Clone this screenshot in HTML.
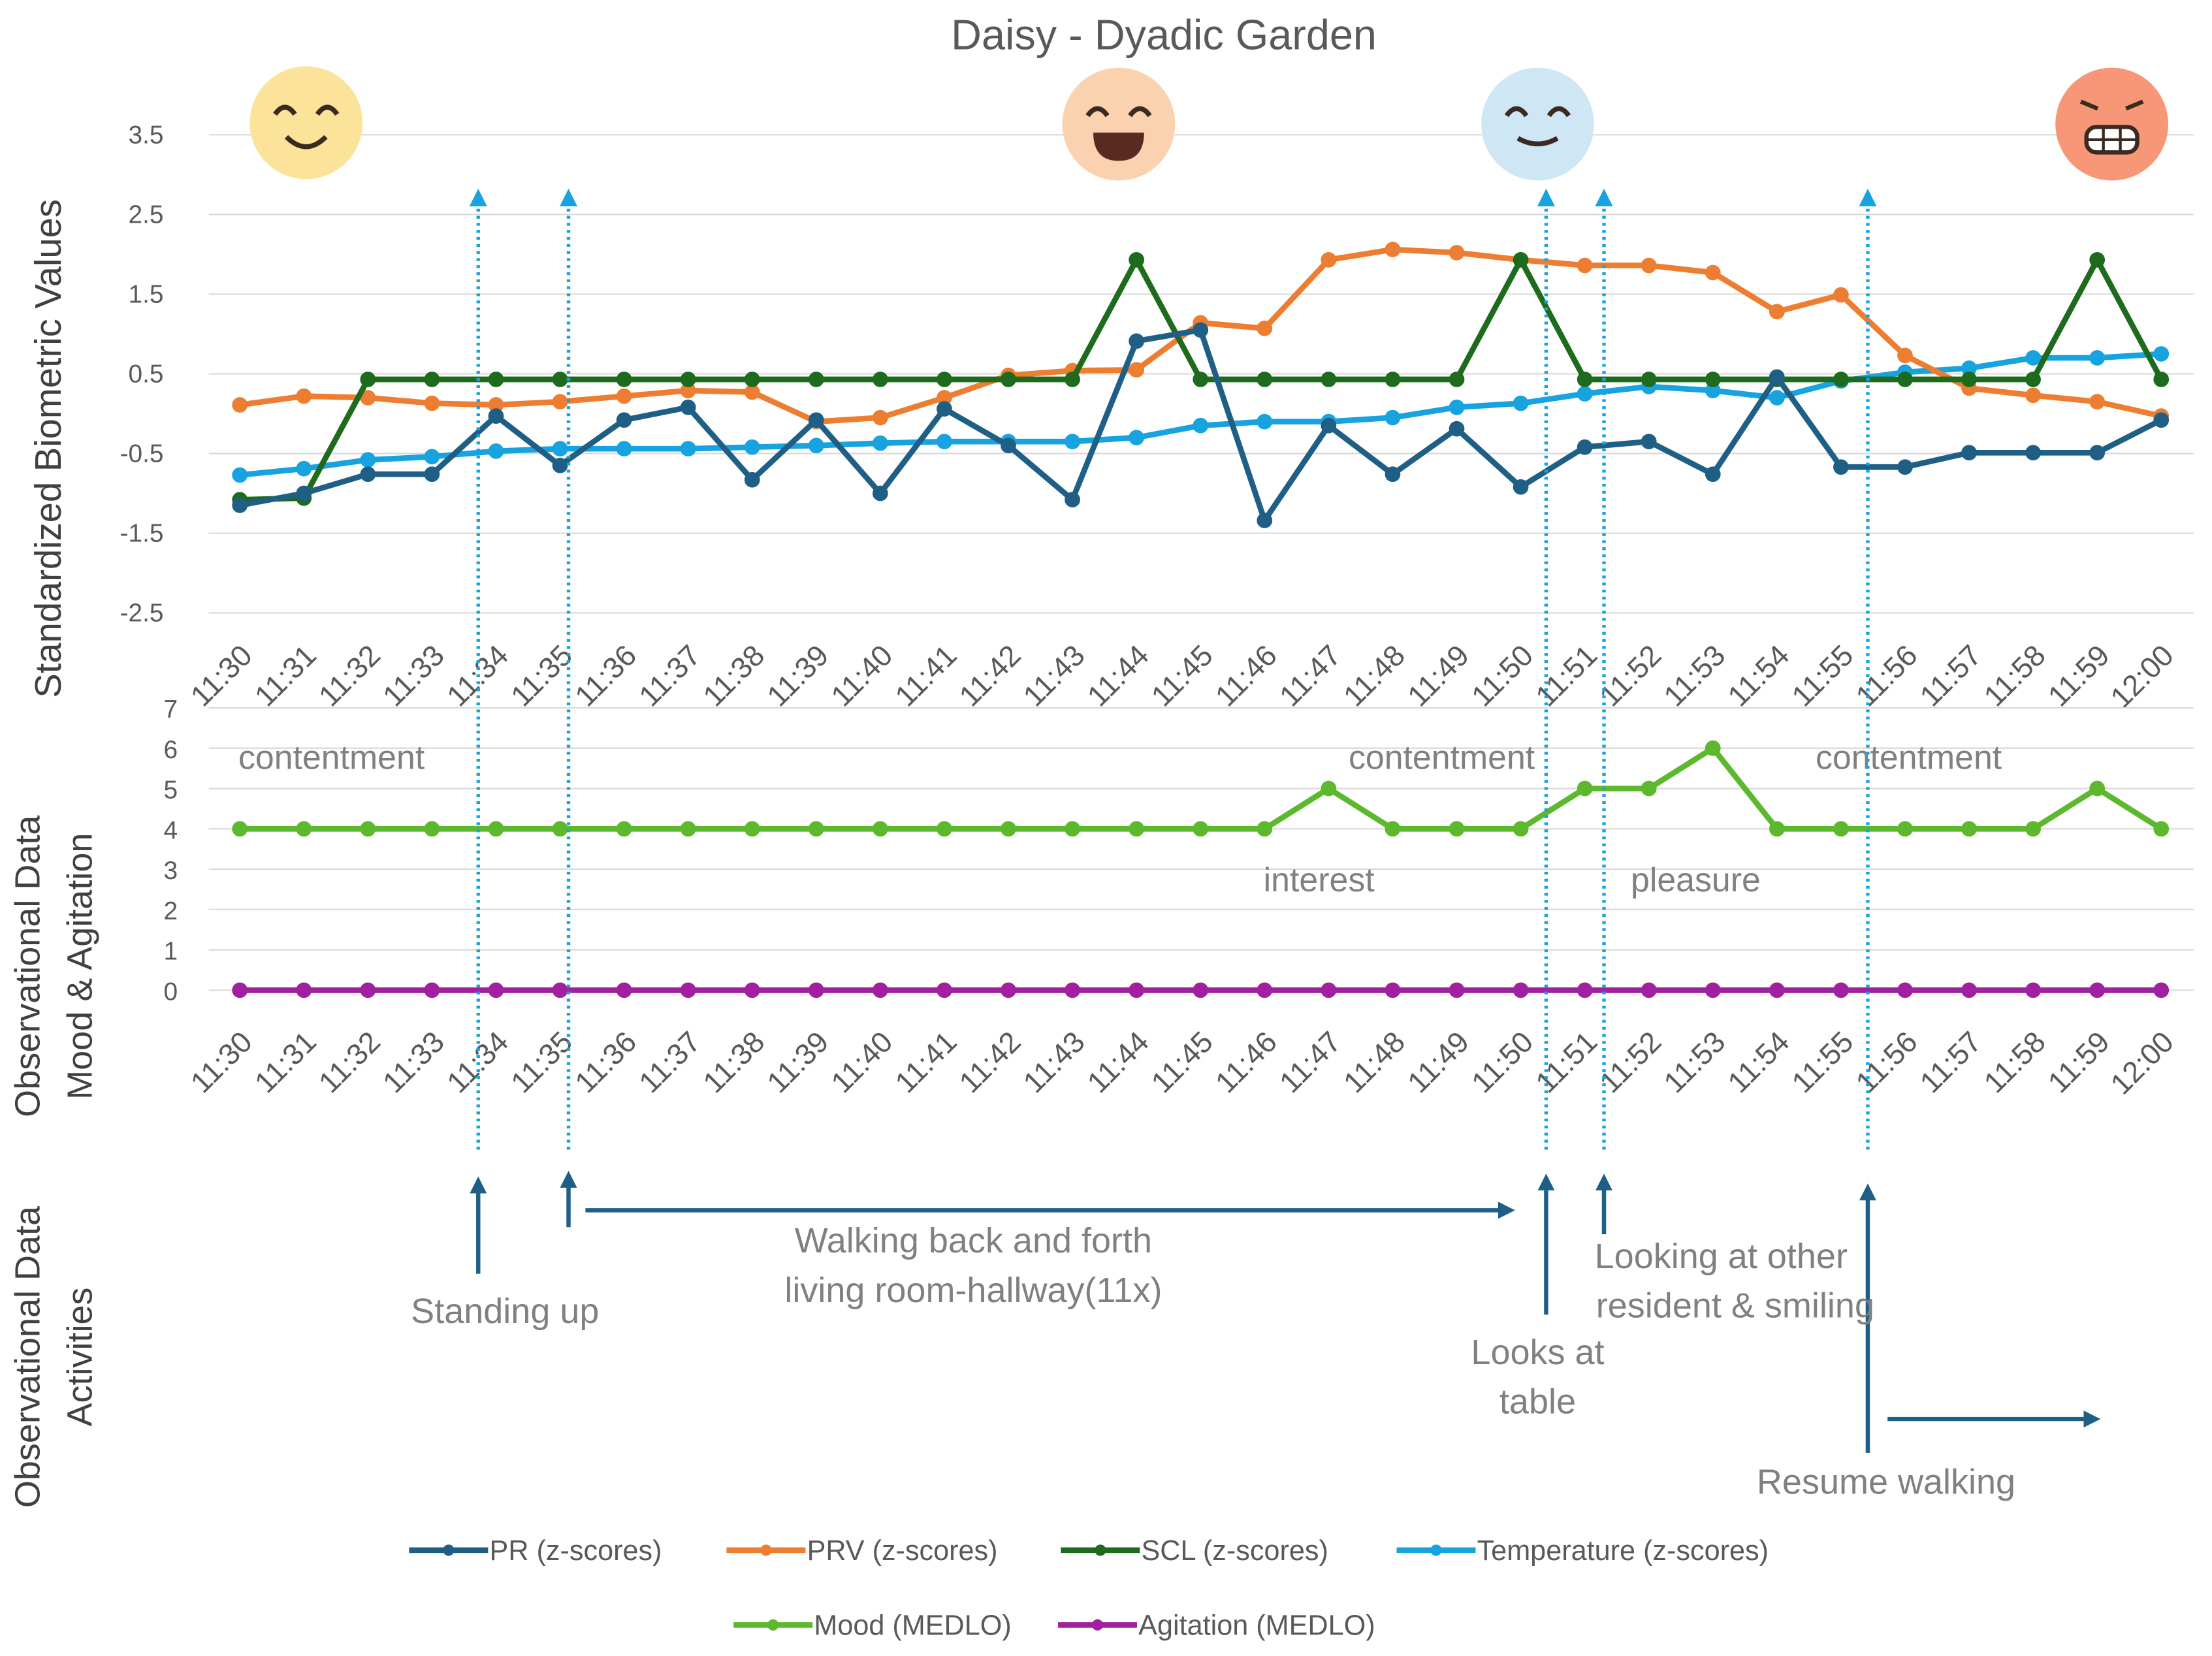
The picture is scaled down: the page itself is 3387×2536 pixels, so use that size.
<!DOCTYPE html>
<html><head><meta charset="utf-8"><style>
html,body{margin:0;padding:0;background:#fff;}
svg{display:block;}
text{font-family:"Liberation Sans",sans-serif;}
</style></head><body>
<svg id="chart" width="3387" height="2536" viewBox="0 0 1568 1174" xmlns="http://www.w3.org/2000/svg">
<rect x="0" y="0" width="1568" height="1174" fill="#fff"/>
<text x="825" y="35" text-anchor="middle" font-size="30" fill="#595959">Daisy - Dyadic Garden</text>
<g id="topPanel"></g>
<g id="midPanel"></g>
<g id="ann"></g>
<text transform="translate(43,318) rotate(-90)" text-anchor="middle" font-size="26" fill="#404040">Standardized Biometric Values</text>
<text transform="translate(28,685) rotate(-90)" text-anchor="middle" font-size="25" fill="#404040">Observational Data</text>
<text transform="translate(65,685) rotate(-90)" text-anchor="middle" font-size="25" fill="#404040">Mood &amp; Agitation</text>
<text transform="translate(28,962) rotate(-90)" text-anchor="middle" font-size="25" fill="#404040">Observational Data</text>
<text transform="translate(65,962) rotate(-90)" text-anchor="middle" font-size="25" fill="#404040">Activities</text>
<g id="legend"></g>
</svg>
<script>
const times = [];
for (let i = 0; i <= 30; i++) { const m = 30 + i; times.push(m < 60 ? "11:" + m : "12:00"); }
const prValues = [-1.15,-1.0,-0.76,-0.76,-0.03,-0.65,-0.08,0.08,-0.83,-0.08,-1.0,0.06,-0.4,-1.08,0.91,1.05,-1.34,-0.15,-0.76,-0.19,-0.92,-0.42,-0.35,-0.76,0.46,-0.67,-0.67,-0.49,-0.49,-0.49,-0.08];
const prvValues = [0.11,0.22,0.2,0.13,0.11,0.15,0.22,0.29,0.27,-0.1,-0.05,0.2,0.48,0.54,0.55,1.14,1.07,1.93,2.06,2.02,1.93,1.86,1.86,1.77,1.28,1.49,0.73,0.32,0.23,0.15,-0.03];
const sclValues = [-1.08,-1.06,0.43,0.43,0.43,0.43,0.43,0.43,0.43,0.43,0.43,0.43,0.43,0.43,1.93,0.43,0.43,0.43,0.43,0.43,1.93,0.43,0.43,0.43,0.43,0.43,0.43,0.43,0.43,1.93,0.43];
const tempValues = [-0.77,-0.69,-0.58,-0.54,-0.47,-0.44,-0.44,-0.44,-0.42,-0.4,-0.37,-0.35,-0.35,-0.35,-0.3,-0.15,-0.1,-0.1,-0.05,0.08,0.13,0.25,0.34,0.29,0.2,0.41,0.52,0.57,0.7,0.7,0.75];
const moodValues = [4,4,4,4,4,4,4,4,4,4,4,4,4,4,4,4,4,5,4,4,4,5,5,6,4,4,4,4,4,5,4];
const agitationValues = [0,0,0,0,0,0,0,0,0,0,0,0,0,0,0,0,0,0,0,0,0,0,0,0,0,0,0,0,0,0,0];
const topTicks = [3.5,2.5,1.5,0.5,-0.5,-1.5,-2.5];
const midTicks = [0,1,2,3,4,5,6,7];

const NS = "http://www.w3.org/2000/svg";
function mk(parent, tag, attrs, txt) {
  const e = document.createElementNS(NS, tag);
  for (const k in attrs) e.setAttribute(k, attrs[k]);
  if (txt !== undefined) e.textContent = txt;
  parent.appendChild(e); return e;
}
const xS = i => 170 + i * (1532 - 170) / 30;
const yTop = v => 265 - (v - 0.5) * 56.5;
const yMid = v => 702 - v * 28.6;
const topG = document.getElementById('topPanel'), midG = document.getElementById('midPanel');

topTicks.forEach(t => {
  const g = mk(topG, 'line', {x1:148,x2:1555,y1:yTop(t),y2:yTop(t),stroke:'#d9d9d9','stroke-width':1});
  
  
  const l = mk(topG, 'text', {x:116,y:yTop(t)+6,'text-anchor':'end','font-size':18,fill:'#595959'}, String(t));
  
  
});
midTicks.forEach(t => {
  const g = mk(midG, 'line', {x1:148,x2:1555,y1:yMid(t),y2:yMid(t),stroke:'#d9d9d9','stroke-width':1});
  
  
  const l = mk(midG, 'text', {x:126,y:yMid(t)+7,'text-anchor':'end','font-size':18,fill:'#595959'}, String(t));
  
  
});
times.forEach((t, i) => {
  [[topG, 466], [midG, 740]].forEach(([p, y]) => {
    const l = mk(p, 'text', {transform:`translate(${xS(i)+10},${y}) rotate(-45)`,'text-anchor':'end','font-size':21,fill:'#595959'}, t);
    
    
  });
});
function series(parent, vals, yf, color, name) {
  const pts = vals.map((v, i) => xS(i) + ',' + yf(v)).join(' ');
  const pl = mk(parent, 'polyline', {points:pts,fill:'none',stroke:color,'stroke-width':4,'stroke-linejoin':'round'});
  
  
  vals.forEach((v, i) => {
    const c = mk(parent, 'circle', {cx:xS(i),cy:yf(v),r:5.5,fill:color});
    
    
  });
}
series(topG, tempValues, yTop, '#17a2e0', 'temperature');
series(topG, prvValues, yTop, '#ed7d31', 'prv');
series(topG, sclValues, yTop, '#1e6b1e', 'scl');
series(topG, prValues, yTop, '#1f5f86', 'pr');
series(midG, moodValues, yMid, '#5cb82c', 'mood');
series(midG, agitationValues, yMid, '#a020a0', 'agitation');

[['contentment',235,545],['contentment',1022,545],['contentment',1353,545],['interest',935,632],['pleasure',1202,632]].forEach(([t,x,y]) => {
  const l = mk(midG, 'text', {x:x,y:y,'text-anchor':'middle','font-size':24,fill:'#808080'}, t);
  
  
});

const emo = [[217,87,'#fbe39a'],[793,88,'#fbd2b0'],[1090,88,'#cfe6f5'],[1497,88,'#f79777']];
emo.forEach(([x,y,c], k) => {
  const g = mk(topG, 'g', {});
  
  
  mk(g, 'circle', {cx:x,cy:y,r:40,fill:c});
  const s = '#3a2a20';
  if (k === 3) {
    mk(g, 'path', {d:`M${x-22} ${y-16} l12 5 M${x+22} ${y-16} l-12 5`,stroke:s,'stroke-width':3,fill:'none'});
    mk(g, 'rect', {x:x-18,y:y+2,width:36,height:18,rx:7,fill:'#fff',stroke:s,'stroke-width':3});
    mk(g, 'path', {d:`M${x-18} ${y+11} h36 M${x-6} ${y+2} v18 M${x+6} ${y+2} v18`,stroke:s,'stroke-width':2});
  } else {
    mk(g, 'path', {d:`M${x-22} ${y-6} q7 -10 14 0 M${x+8} ${y-6} q7 -10 14 0`,stroke:s,'stroke-width':3.5,fill:'none'});
    if (k === 1) mk(g, 'path', {d:`M${x-18} ${y+6} h36 q0 20 -18 20 q-18 0 -18 -20z`,fill:'#5a2a20'});
    else mk(g, 'path', {d:`M${x-14} ${y+10} q14 ${k===2?8:14} 28 0`,stroke:s,'stroke-width':3.5,fill:'none'});
  }
});

const ann = document.getElementById('ann');
mk(ann, 'defs', {}).innerHTML = '<marker id="ah" viewBox="0 0 10 10" refX="5" refY="5" markerWidth="4" markerHeight="4" orient="auto"><path d="M0 0L10 5L0 10z" fill="#1f5f86"/></marker><marker id="ah2" viewBox="0 0 10 10" refX="5" refY="5" markerWidth="5" markerHeight="5" orient="auto"><path d="M0 0L10 5L0 10z" fill="#17a2e0"/></marker>';
[339,403,1096,1137,1324].forEach(x => {
  const l = mk(ann, 'line', {x1:x,x2:x,y1:815,y2:140,stroke:'#17a2e0','stroke-width':2.5,'stroke-dasharray':'2 3','marker-end':'url(#ah2)'});
  
  
});
[[339,903,840],[403,870,836],[1096,932,838],[1137,875,838],[1324,1030,845]].forEach(([x,y1,y2]) => {
  const l = mk(ann, 'line', {x1:x,x2:x,y1:y1,y2:y2,stroke:'#1f5f86','stroke-width':3,'marker-end':'url(#ah)'});
  
  
});
[[415,1068,858],[1338,1483,1006]].forEach(([a,b,y]) => {
  const l = mk(ann, 'line', {x1:a,x2:b,y1:y,y2:y,stroke:'#1f5f86','stroke-width':3,'marker-end':'url(#ah)'});
  
  
});
[['Standing up',358,938],['Walking back and forth',690,888],['living room-hallway(11x)',690,923],['Looking at other',1220,899],['resident & smiling',1230,934],['Looks at',1090,967],['table',1090,1002],['Resume walking',1337,1059]].forEach(([t,x,y]) => {
  const l = mk(ann, 'text', {x:x,y:y,'text-anchor':'middle','font-size':25,fill:'#808080'}, t);
  
  
});

const leg = document.getElementById('legend');
[['PR (z-scores)','#1f5f86',290,1099],['PRV (z-scores)','#ed7d31',515,1099],['SCL (z-scores)','#1e6b1e',752,1099],['Temperature (z-scores)','#17a2e0',990,1099],['Mood (MEDLO)','#5cb82c',520,1152],['Agitation (MEDLO)','#a020a0',750,1152]].forEach(([t,c,x,y]) => {
  const g = mk(leg, 'g', {});
  
  
  mk(g, 'line', {x1:x,x2:x+56,y1:y,y2:y,stroke:c,'stroke-width':4});
  mk(g, 'circle', {cx:x+28,cy:y,r:4,fill:c});
  mk(g, 'text', {x:x+57,y:y+7,'font-size':20,fill:'#595959'}, t);
});
</script>
</body></html>
